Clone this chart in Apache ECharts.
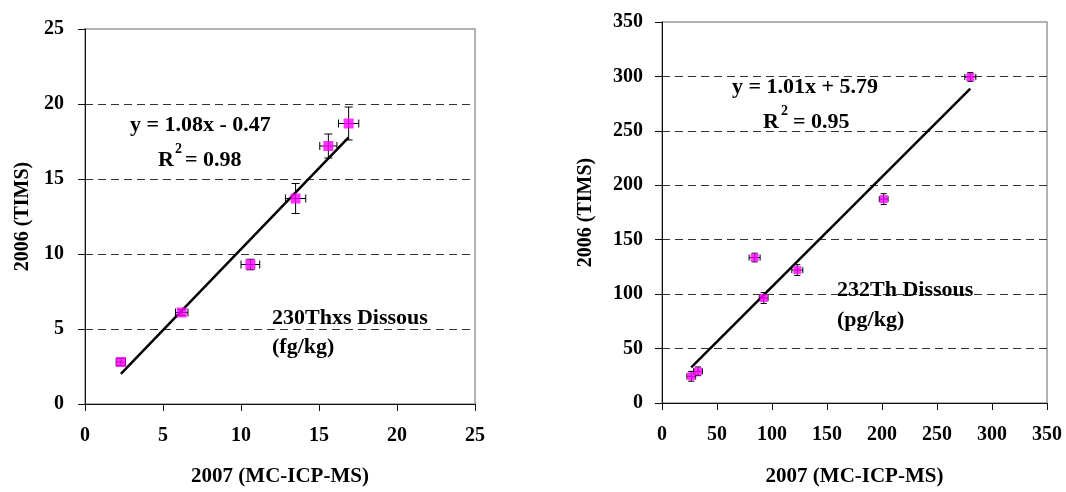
<!DOCTYPE html>
<html>
<head>
<meta charset="utf-8">
<script src="https://cdn.jsdelivr.net/npm/echarts@6/dist/echarts.min.js"></script>
<style>
html,body{margin:0;padding:0;background:#fff;}
#c{width:1066px;height:492px;}
</style>
</head>
<body>
<div id="c"></div>
<script>
// ---- Data ----
// Left panel: 230Thxs Dissous (fg/kg)
var leftX = [2.3, 6.2, 10.6, 13.5, 15.6, 16.9];
var leftY = [2.8, 6.1, 9.3, 13.7, 17.2, 18.7];
var leftXErr = [0.3, 0.4, 0.6, 0.65, 0.55, 0.65];
var leftYErr = [0.25, 0.2, 0.35, 1.0, 0.8, 1.1];
var leftFit = [1.08, -0.47]; // slope, intercept
var leftTicks = [0, 5, 10, 15, 20, 25];

// Right panel: 232Th Dissous (pg/kg)
var rightX = [26.6, 32.7, 84.2, 92.4, 123.0, 201.5, 280.3];
var rightY = [24.5, 29.1, 133.6, 96.4, 122.1, 187.3, 299.5];
var rightXErr = [4, 4, 5, 4, 5, 4, 5];
var rightYErr = [4.5, 4, 4, 5, 5, 5, 4];
var rightFit = [1.01, 5.79];
var rightTicks = [0, 50, 100, 150, 200, 250, 300, 350];

var xTitle = '2007 (MC-ICP-MS)';
var yTitle = '2006 (TIMS)';
var leftEq = 'y = 1.08x - 0.47';
var leftR2 = '= 0.98';
var leftLabel = ['230Thxs Dissous', '(fg/kg)'];
var rightEq = 'y = 1.01x + 5.79';
var rightR2 = '= 0.95';
var rightLabel = ['232Th Dissous', '(pg/kg)'];

// ---- Helpers ----
var FONT = 'Liberation Serif';
function pts(xs, ys) { return xs.map(function (x, i) { return [x, ys[i]]; }); }
function errPts(xs, ys, ex, ey) { return xs.map(function (x, i) { return [x, ys[i], ex[i], ey[i]]; }); }
function fitLine(xs, fit) {
  var mn = Math.min.apply(null, xs), mx = Math.max.apply(null, xs);
  return [[mn, fit[0] * mn + fit[1]], [mx, fit[0] * mx + fit[1]]];
}
function makeErrRender(cap) {
  return function (params, api) {
    var x = api.value(0), y = api.value(1), ex = api.value(2), ey = api.value(3);
    var l = api.coord([x - ex, y]), r = api.coord([x + ex, y]);
    var t = api.coord([x, y + ey]), b = api.coord([x, y - ey]);
    var st = { stroke: '#000', lineWidth: 1 };
    function ln(x1, y1, x2, y2) { return { type: 'line', shape: { x1: x1, y1: y1, x2: x2, y2: y2 }, style: st }; }
    return {
      type: 'group',
      children: [
        ln(l[0], l[1], r[0], r[1]),
        ln(l[0], l[1] - cap, l[0], l[1] + cap),
        ln(r[0], r[1] - cap, r[0], r[1] + cap),
        ln(t[0], t[1], b[0], b[1]),
        ln(t[0] - cap, t[1], t[0] + cap, t[1]),
        ln(b[0] - cap, b[1], b[0] + cap, b[1])
      ]
    };
  };
}
function axisCommon(ticks, isY, labelMargin, nameGap) {
  return {
    type: 'value',
    min: ticks[0], max: ticks[ticks.length - 1], interval: ticks[1] - ticks[0],
    name: isY ? yTitle : xTitle,
    nameLocation: 'middle',
    nameGap: nameGap,
    nameTextStyle: { fontFamily: FONT, fontWeight: 'bold', fontSize: isY ? 20 : 21, color: '#000' },
    axisLine: { show: true, onZero: false, lineStyle: { color: '#111', width: 1 } },
    axisTick: { show: true, inside: false, length: 7, lineStyle: { color: '#111', width: 1 } },
    axisLabel: { fontFamily: FONT, fontWeight: 'bold', fontSize: 20, color: '#000', margin: labelMargin },
    splitLine: isY ? { show: true, showMinLine: false, showMaxLine: false,
      lineStyle: { color: '#333', width: 1, type: [8, 5] } } : { show: false }
  };
}
function txt(x, y, text, size, align) {
  return { type: 'text', x: x, y: y, z: 100,
    style: { text: text, fontFamily: FONT, fontWeight: 'bold', fontSize: size, fill: '#000',
      textAlign: align || 'left', textVerticalAlign: 'middle' } };
}

var chart = echarts.init(document.getElementById('c'), null, { renderer: 'canvas' });
chart.setOption({
  backgroundColor: '#fff',
  animation: false,
  textStyle: { fontFamily: FONT },
  grid: [
    { left: 85, top: 29, width: 390, height: 382, show: true, borderColor: '#999', borderWidth: 1.5, backgroundColor: 'transparent' },
    { left: 662, top: 22, width: 385, height: 385, show: true, borderColor: '#999', borderWidth: 1.5, backgroundColor: 'transparent' }
  ],
  xAxis: [
    Object.assign(axisCommon(leftTicks, false, 22, 62), { gridIndex: 0 }),
    Object.assign(axisCommon(rightTicks, false, 22, 63), { gridIndex: 1 })
  ],
  yAxis: [
    Object.assign(axisCommon(leftTicks, true, 21, 52), { gridIndex: 0 }),
    Object.assign(axisCommon(rightTicks, true, 19, 66), { gridIndex: 1 })
  ],
  series: [
    { type: 'line', xAxisIndex: 0, yAxisIndex: 0, data: fitLine(leftX, leftFit), showSymbol: false,
      lineStyle: { color: '#000', width: 2.5 }, z: 2, silent: true },
    { type: 'custom', xAxisIndex: 0, yAxisIndex: 0, data: errPts(leftX, leftY, leftXErr, leftYErr),
      renderItem: makeErrRender(4), z: 3, silent: true },
    { type: 'scatter', xAxisIndex: 0, yAxisIndex: 0, data: pts(leftX, leftY), symbol: 'rect', symbolSize: 10,
      itemStyle: { color: '#FF00FF' }, z: 4 },

    { type: 'line', xAxisIndex: 1, yAxisIndex: 1, data: fitLine(rightX, rightFit), showSymbol: false,
      lineStyle: { color: '#000', width: 2.5 }, z: 2, silent: true },
    { type: 'custom', xAxisIndex: 1, yAxisIndex: 1, data: errPts(rightX, rightY, rightXErr, rightYErr),
      renderItem: makeErrRender(3), z: 3, silent: true },
    { type: 'scatter', xAxisIndex: 1, yAxisIndex: 1, data: pts(rightX, rightY), symbol: 'rect', symbolSize: 8,
      itemStyle: { color: '#FF00FF' }, z: 4 }
  ],
  graphic: [
    txt(130, 125, leftEq, 22),
    txt(158, 160, 'R', 22),
    txt(175, 149, '2', 14),
    txt(185, 160, leftR2, 22),
    txt(272, 318, leftLabel[0], 22),
    txt(272, 347, leftLabel[1], 22),

    txt(732, 87, rightEq, 22),
    txt(763, 122, 'R', 22),
    txt(781, 111, '2', 14),
    txt(793, 122, rightR2, 22),
    txt(837, 290, rightLabel[0], 22),
    txt(837, 320, rightLabel[1], 22)
  ]
});
</script>
</body>
</html>
